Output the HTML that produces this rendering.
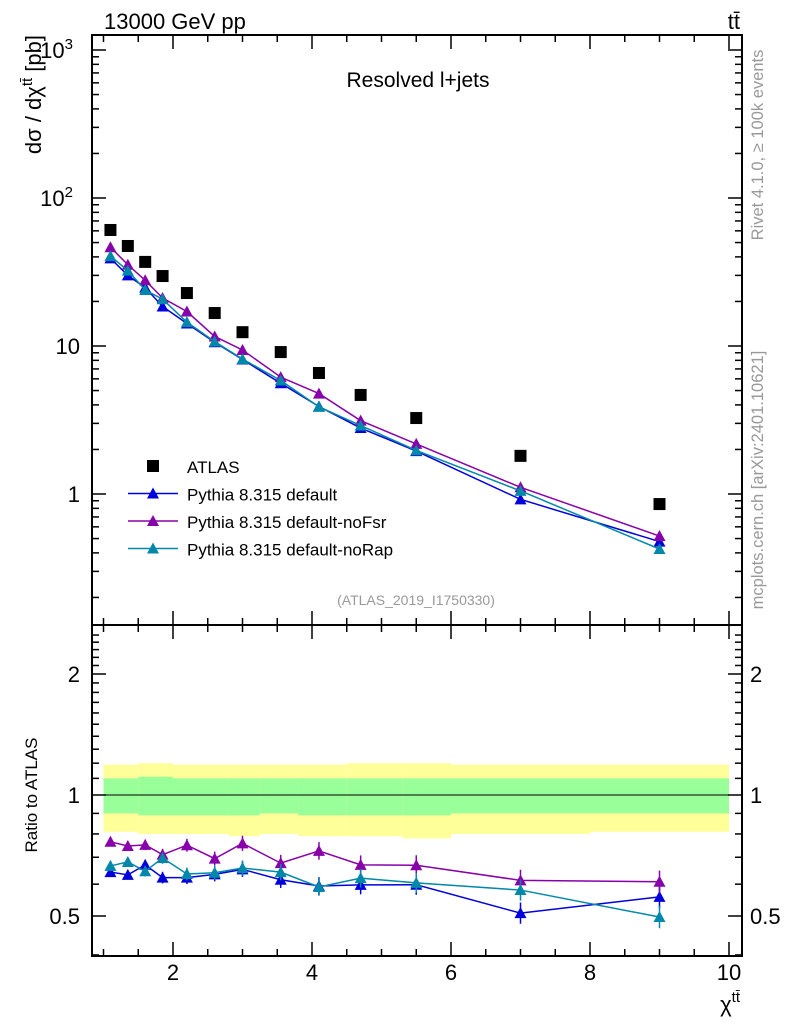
<!DOCTYPE html>
<html><head><meta charset="utf-8"><style>
body{margin:0;background:#fff;}
svg text{font-family:"Liberation Sans",sans-serif;}
</style></head><body>
<svg id="c" width="786" height="1024" xmlns="http://www.w3.org/2000/svg">
<rect width="786" height="1024" fill="#fff"/>
</svg>
<script>
const xs=[1.1,1.35,1.6,1.85,2.2,2.6,3.0,3.55,4.1,4.7,5.5,7,9];
const atlas=[60.8,47.4,37,29.7,22.8,16.7,12.4,9.1,6.57,4.67,3.26,1.81,0.855];
const mcDefault=[39.1,30.0,24.8,18.5,14.2,10.6,8.1,5.6,3.9,2.79,1.95,0.92,0.477];
const mcNoFsr=[46.5,35.4,27.8,21.1,17.1,11.6,9.4,6.16,4.77,3.13,2.18,1.11,0.52];
const mcNoRap=[40.5,32.3,23.9,20.7,14.5,10.7,8.16,5.85,3.88,2.9,1.97,1.05,0.425];
const binEdges=[1,1.5,2,2.8,3.25,3.8,4.5,5.3,6,8,10];
const yellowUp=[1.19,1.20,1.19,1.19,1.19,1.19,1.20,1.20,1.19,1.19];
const yellowDn=[0.81,0.80,0.80,0.79,0.80,0.79,0.79,0.78,0.80,0.81];
const greenUp=[1.10,1.11,1.10,1.10,1.10,1.10,1.10,1.10,1.10,1.10];
const greenDn=[0.90,0.89,0.89,0.89,0.90,0.89,0.89,0.89,0.90,0.90];
const xTicks=[2,4,6,8,10];
const NS="http://www.w3.org/2000/svg";
const svg=document.getElementById('c');
const L=92,R=742,T=35,MB=625,B=956;
const X=v=>173+(v-2)*69.5;
const Y=v=>494-Math.log10(v)*148;
const RY=v=>795-Math.log2(v)*121;
function el(t,a,p){const e=document.createElementNS(NS,t);for(const k in a)e.setAttribute(k,a[k]);(p||svg).appendChild(e);return e;}
function txt(s,a){const e=el('text',a);e.textContent=s;return e;}
for(let i=0;i<binEdges.length-1;i++){
 const x0=X(binEdges[i]),x1=X(binEdges[i+1]);
 const y=el('rect',{x:x0,y:RY(yellowUp[i]),width:x1-x0,height:RY(yellowDn[i])-RY(yellowUp[i]),fill:'#ffff99'});
 
 
 const g=el('rect',{x:x0,y:RY(greenUp[i]),width:x1-x0,height:RY(greenDn[i])-RY(greenUp[i]),fill:'#99ff99'});
 
 
}
el('line',{x1:X(1),x2:X(10),y1:RY(1),y2:RY(1),stroke:'#000','stroke-width':1});
el('rect',{x:L,y:T,width:R-L,height:MB-T,fill:'none',stroke:'#000','stroke-width':2});
el('rect',{x:L,y:MB,width:R-L,height:B-MB,fill:'none',stroke:'#000','stroke-width':2});
for(let v=1;v<=10.01;v+=0.5){
 const maj=Math.abs(v-Math.round(v/2)*2)<1e-6;const len=maj?14:7;
 [[T,1],[MB,-1],[MB,1],[B,-1]].forEach(([y0,d])=>el('line',{x1:X(v),x2:X(v),y1:y0,y2:y0+d*len,stroke:'#000','stroke-width':1.5}));
}
xTicks.forEach(v=>{const t=txt(String(v),{x:X(v),y:980,'font-size':22,'text-anchor':'middle'});
 
 });
for(let d=-1;d<=3;d++)for(let m=1;m<10;m++){const v=m*Math.pow(10,d);const y=Y(v);if(y<T||y>MB)continue;const len=m==1?14:7;
 el('line',{x1:L,x2:L+len,y1:y,y2:y,stroke:'#000','stroke-width':1.5});el('line',{x1:R,x2:R-len,y1:y,y2:y,stroke:'#000','stroke-width':1.5});}
[[1000,'10','3'],[100,'10','2'],[10,'10',''],[1,'1','']].forEach(([v,b,e])=>{const t=el('text',{x:e?73:80,y:Y(v)+8,'font-size':22,'text-anchor':'end'});t.textContent=b;
 if(e){const s=el('tspan',{dy:-9,'font-size':15},t);s.textContent=e;}
 
 });
for(let v=0.4;v<=2.6;v+=0.1){const y=RY(v);if(y<MB||y>B)continue;const maj=[0.5,1,2].some(m=>Math.abs(m-v)<1e-6);const len=maj?14:7;
 el('line',{x1:L,x2:L+len,y1:y,y2:y,stroke:'#000','stroke-width':1.5});el('line',{x1:R,x2:R-len,y1:y,y2:y,stroke:'#000','stroke-width':1.5});}
[[2,'2'],[1,'1'],[0.5,'0.5']].forEach(([v,s])=>{txt(s,{x:80,y:RY(v)+8,'font-size':22,'text-anchor':'end'});txt(s,{x:750,y:RY(v)+8,'font-size':22});});
const series=[[mcDefault,'#0000dd','default'],[mcNoFsr,'#8800aa','nofsr'],[mcNoRap,'#0088aa','norap']];
function tri(x,y,c,n){const p=el('polygon',{points:`${x},${y-6} ${x-6},${y+5} ${x+6},${y+5}`,fill:c});
 
 }
series.forEach(([d,c,n])=>{
 el('polyline',{points:xs.map((x,i)=>X(x)+','+Y(d[i])).join(' '),fill:'none',stroke:c,'stroke-width':1.5});
 xs.forEach((x,i)=>tri(X(x),Y(d[i]),c,'point-'+n));
 const r=d.map((v,i)=>v/atlas[i]);
 el('polyline',{points:xs.map((x,i)=>X(x)+','+RY(r[i])).join(' '),fill:'none',stroke:c,'stroke-width':1.5});
 xs.forEach((x,i)=>{const e=4+i*0.6;el('line',{x1:X(x),x2:X(x),y1:RY(r[i])-e,y2:RY(r[i])+e,stroke:c,'stroke-width':1.5});tri(X(x),RY(r[i]),c,'ratio-'+n);});
});
xs.forEach((x,i)=>{const s=el('rect',{x:X(x)-6,y:Y(atlas[i])-6,width:12,height:12,fill:'#000'});
 
 });
const lg=[['ATLAS',null],['Pythia 8.315 default','#0000dd'],['Pythia 8.315 default-noFsr','#8800aa'],['Pythia 8.315 default-noRap','#0088aa']];
lg.forEach(([s,c],i)=>{const y=466+i*27.5;
 if(c){el('line',{x1:128,x2:178,y1:y,y2:y,stroke:c,'stroke-width':1.5});tri(153,y,c,'legend-marker');}
 else{el('rect',{x:147,y:y-6,width:12,height:12,fill:'#000'});}
 const t=txt(s,{x:187,y:y+7,'font-size':17});
 
 });
</script>
<svg width="786" height="1024" style="position:absolute;left:0;top:0" xmlns="http://www.w3.org/2000/svg">
<text x="104" y="29" font-size="22" font-family="Liberation Sans">13000 GeV pp</text>
<text x="740" y="29" font-size="22" font-family="Liberation Sans" text-anchor="end">tt̄</text>
<text x="418" y="87" font-size="21" font-family="Liberation Sans" text-anchor="middle">Resolved l+jets</text>
<text x="416" y="605" font-size="14" font-family="Liberation Sans" fill="#999" text-anchor="middle">(ATLAS_2019_I1750330)</text>
<text transform="translate(41,35) rotate(-90)" font-size="22" font-family="Liberation Sans" text-anchor="end">dσ / dχ<tspan dy="-9" font-size="15">tt̄</tspan><tspan dy="9"> [pb]</tspan></text>
<text transform="translate(37,795) rotate(-90)" font-size="17" font-family="Liberation Sans" text-anchor="middle">Ratio to ATLAS</text>
<text x="740" y="1012" font-size="22" font-family="Liberation Sans" text-anchor="end">χ<tspan dy="-10" font-size="15">tt̄</tspan></text>
<text transform="translate(763,145) rotate(-90)" font-size="16.5" font-family="Liberation Sans" fill="#999" text-anchor="middle">Rivet 4.1.0, ≥ 100k events</text>
<text transform="translate(763,480) rotate(-90)" font-size="16.5" font-family="Liberation Sans" fill="#999" text-anchor="middle">mcplots.cern.ch [arXiv:2401.10621]</text>
</svg>
</body></html>
